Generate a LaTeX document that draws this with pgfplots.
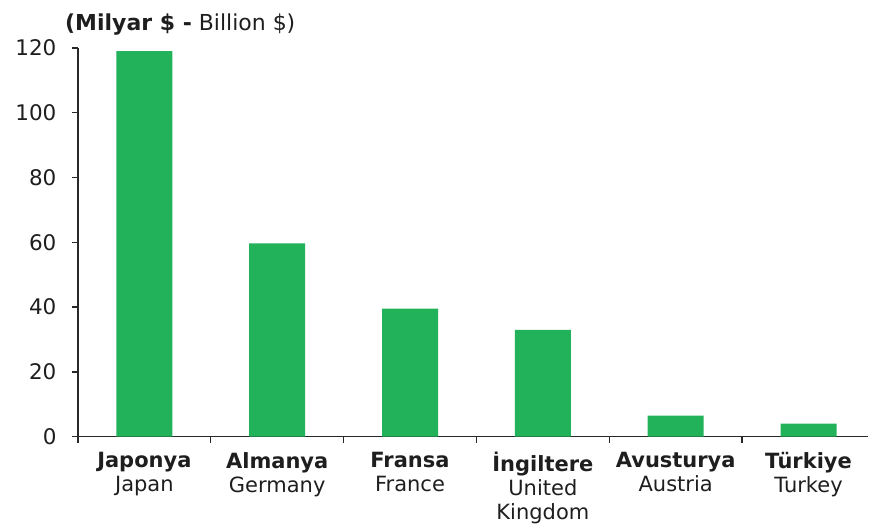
\documentclass[border=0pt]{standalone}
\usepackage{pgfplots}
\pgfplotsset{compat=1.18}
\usepackage{fontspec}
\setmainfont{DejaVu Sans}
\definecolor{barg}{RGB}{33,178,90}
\definecolor{axisc}{RGB}{40,40,40}
\definecolor{txt}{RGB}{30,30,30}
\begin{document}
\begin{tikzpicture}
\begin{axis}[
  scale only axis, width=791pt, height=389pt,
  xmin=-0.5, xmax=5.45, ymin=0, ymax=120,
  axis x line*=bottom, axis y line*=left,
  axis line style={line width=1.4pt, draw=axisc},
  ybar, bar width=56pt,
  ytick={0,20,...,120},
  xtick={-0.5,0.5,1.5,2.5,3.5,4.5}, xticklabels={},
  tick align=outside, major tick length=6pt,
  tick style={line width=1.4pt, draw=axisc},
  /pgf/number format/assume math mode=true,
  yticklabel style={font=\fontsize{21.5}{25}\selectfont, text=txt, xshift=-12pt},
  xticklabel style={font=\fontsize{21}{24}\selectfont, text=txt, align=center, yshift=-12pt},
  extra x ticks={0,1,2,3,4,5},
  extra x tick labels={
    \textbf{Japonya}\\Japan,
    \textbf{Almanya}\\Germany,
    \textbf{Fransa}\\France,
    \textbf{İngiltere}\\United\\Kingdom,
    \textbf{Avusturya}\\Austria,
    \textbf{Türkiye}\\Turkey},
  extra x tick style={major tick length=0pt, tick style={draw=none}},
  clip=false,
]
\addplot[fill=barg, draw=none] coordinates {(0,119) (1,59.7) (2,39.5) (3,33) (4,6.5) (5,4)};
\node[anchor=base west, font=\fontsize{22}{26}\selectfont, text=txt, inner sep=0pt]
  at (rel axis cs:-0.0164,1) [yshift=17pt] {\textbf{(Milyar \$ -} Billion \$)};
\end{axis}
\path ([xshift=-78pt,yshift=-88pt]current axis.south west) rectangle ([yshift=48pt]current axis.north east);
\end{tikzpicture}
\end{document}
